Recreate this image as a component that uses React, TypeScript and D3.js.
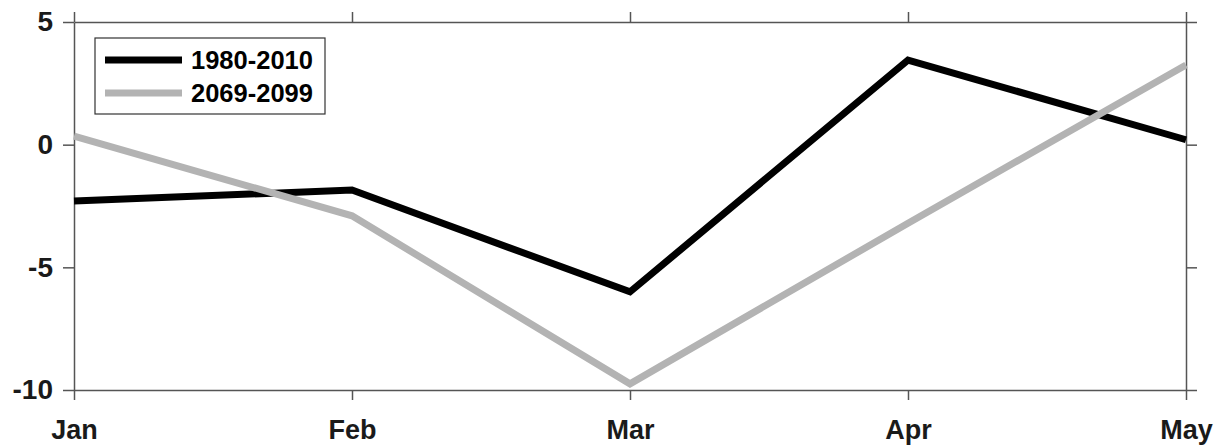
import React, { useEffect, useRef } from 'react';
import * as d3 from 'd3';

const months = ['Jan', 'Feb', 'Mar', 'Apr', 'May'];
const past = [-2.3, -1.85, -6.0, 3.45, 0.2];
const future = [0.35, -2.9, -9.75, -3.2, 3.25];
const seriesNames = ['1980-2010', '2069-2099'];
const seriesColors = ['#000000', '#b3b3b3'];
const yTicks = [5, 0, -5, -10];

const App = () => {
    const svgRef = useRef(null);

    useEffect(() => {
        const svg = d3.select(svgRef.current);
        const margin = { top: 22, right: 34, bottom: 55, left: 74 };
        const W = 1220, H = 445;
        const width = W - margin.left - margin.right;
        const height = H - margin.top - margin.bottom;
        const axisColor = '#555';
        const font = '"Liberation Sans", Arial, Helvetica, sans-serif';

        svg.selectAll('*').remove();

        const x = d3.scalePoint().domain(months).range([0, width]);
        const y = d3.scaleLinear().domain([-10, 5]).range([height, 0]);

        const g = svg.append('g')
            .attr('transform', `translate(${margin.left}, ${margin.top})`);

        const styleAxis = sel => {
            sel.select('.domain').attr('stroke', axisColor).attr('stroke-width', 1.5);
            sel.selectAll('.tick line').attr('stroke', axisColor).attr('stroke-width', 1.5);
        };

        // bottom axis with labels
        const bottom = g.append('g')
            .attr('transform', `translate(0, ${height})`)
            .call(d3.axisBottom(x).tickSize(10).tickSizeOuter(0).tickPadding(20));
        styleAxis(bottom);
        bottom.selectAll('.tick text')
            .attr('fill', '#1a1a1a')
            .style('font-family', font)
            .style('font-weight', 'bold')
            .style('font-size', '27px');

        // top axis, ticks only
        const top = g.append('g')
            .call(d3.axisTop(x).tickSize(10).tickSizeOuter(0).tickFormat(() => ''));
        styleAxis(top);

        // left axis with labels (plain hyphen for negatives)
        const left = g.append('g')
            .call(d3.axisLeft(y).tickValues(yTicks).tickSize(11).tickSizeOuter(0).tickPadding(10)
                .tickFormat(d => String(d)));
        styleAxis(left);
        left.selectAll('.tick text')
            .attr('fill', '#1a1a1a')
            .style('font-family', font)
            .style('font-weight', 'bold')
            .style('font-size', '28px');

        // right axis, ticks only
        const right = g.append('g')
            .attr('transform', `translate(${width}, 0)`)
            .call(d3.axisRight(y).tickValues(yTicks).tickSize(11).tickSizeOuter(0).tickFormat(() => ''));
        styleAxis(right);

        const line = d3.line()
            .x((d, i) => x(months[i]))
            .y(d => y(d));

        [past, future].forEach((vals, i) => {
            g.append('path')
                .attr('d', line(vals))
                .attr('fill', 'none')
                .attr('stroke', seriesColors[i])
                .attr('stroke-width', 7)
                .attr('stroke-linejoin', 'miter');
        });

        // legend
        const lg = svg.append('g').attr('transform', 'translate(95, 38)');
        lg.append('rect')
            .attr('width', 230)
            .attr('height', 76)
            .attr('fill', '#fff')
            .attr('stroke', '#333')
            .attr('stroke-width', 1.2);
        seriesNames.forEach((name, i) => {
            const ly = 22 + i * 33;
            lg.append('line')
                .attr('x1', 10).attr('x2', 87)
                .attr('y1', ly).attr('y2', ly)
                .attr('stroke', seriesColors[i])
                .attr('stroke-width', 7);
            lg.append('text')
                .attr('x', 96)
                .attr('y', ly)
                .attr('dy', '0.36em')
                .attr('fill', '#000')
                .style('font-family', font)
                .style('font-weight', 'bold')
                .style('font-size', '25.5px')
                .text(name);
        });
    }, []);

    return (
        <div style={{ position: 'absolute', left: 0, top: 0 }}>
            <svg ref={svgRef} width={1220} height={445}></svg>
        </div>
    );
};

export default App;
